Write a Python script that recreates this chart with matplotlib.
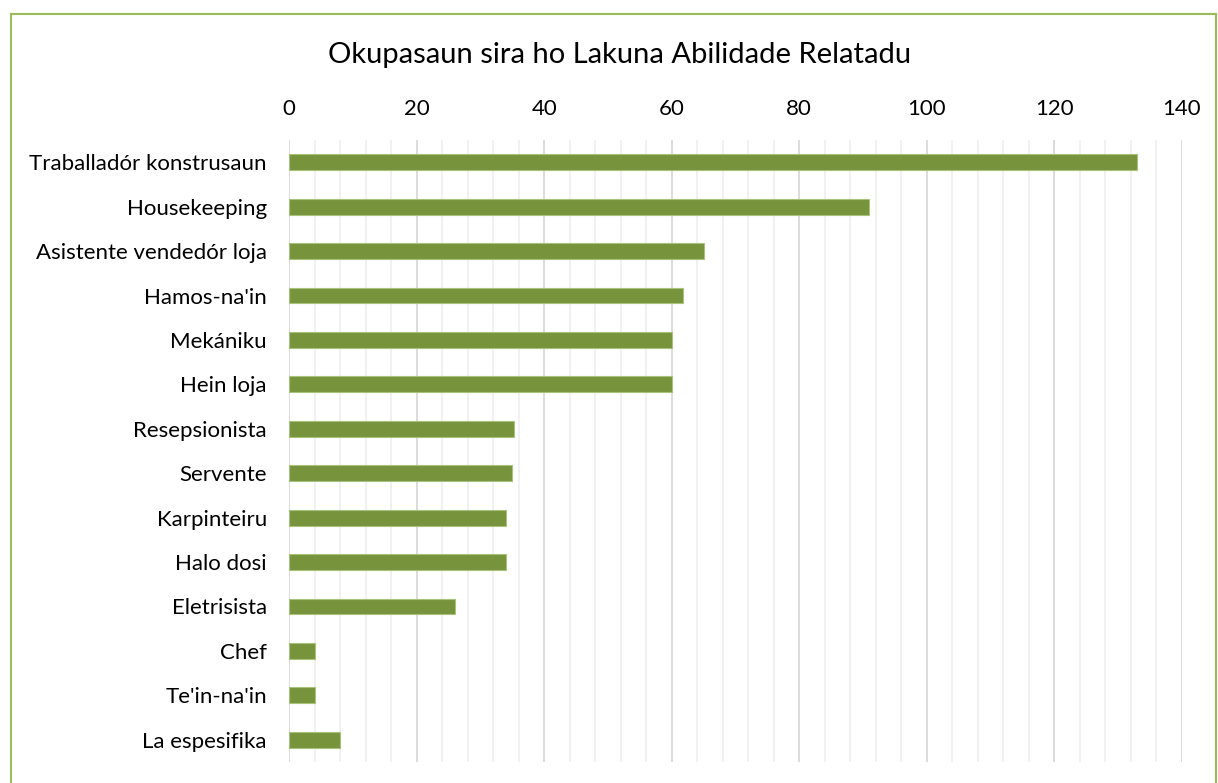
import numpy as np
import matplotlib.pyplot as plt
from matplotlib.ticker import MultipleLocator

plt.rcParams['font.family'] = ['Lato', 'DejaVu Sans']

# dadus
categories = ['Traballadór konstrusaun', 'Housekeeping', 'Asistente vendedór loja',
              "Hamos-na'in", 'Mekániku', 'Hein loja', 'Resepsionista', 'Servente',
              'Karpinteiru', 'Halo dosi', 'Eletrisista', 'Chef', "Te'in-na'in",
              'La espesifika']
values = [133, 91, 65, 61.7, 60, 60, 35.3, 35, 34, 34, 26, 4, 4, 8]
xticks = [0, 20, 40, 60, 80, 100, 120, 140]

fig = plt.figure(figsize=(12.18, 7.83), dpi=100)
ax = fig.add_axes([289/1218, 1-762/783, (1182-289)/1218, (762-140)/783])

y = np.arange(len(categories))
ax.barh(y, values, height=0.36, color='#77933C', edgecolor='#A9C27A', linewidth=0.8, zorder=3)

ax.set_xlim(0, 140)
ax.set_ylim(len(categories) - 0.5, -0.5)
ax.set_yticks(y)
ax.set_yticklabels(categories, fontsize=16)
ax.set_xticks(xticks)
ax.xaxis.set_minor_locator(MultipleLocator(4))
ax.xaxis.tick_top()
ax.tick_params(axis='x', which='both', length=0, labelsize=16, pad=15)
ax.tick_params(axis='y', length=0, pad=16)
ax.grid(axis='x', which='major', color='#D9D9D9', linewidth=1.3, zorder=0)
ax.grid(axis='x', which='minor', color='#F0F0F0', linewidth=1.3, zorder=0)
for s in ax.spines.values():
    s.set_visible(False)

fig.text(620/1218, 1-55/783, 'Okupasaun sira ho Lakuna Abilidade Relatadu',
         ha='center', va='center', fontsize=21)

# kaixa berde
fig.add_artist(plt.Line2D([11/1218, 11/1218], [0, 1-14/783], transform=fig.transFigure,
                          color='#9BBB59', linewidth=1.5))
fig.add_artist(plt.Line2D([11/1218, 1216/1218], [1-14/783, 1-14/783], transform=fig.transFigure,
                          color='#9BBB59', linewidth=1.5))
fig.add_artist(plt.Line2D([1216/1218, 1216/1218], [0, 1-14/783], transform=fig.transFigure,
                          color='#9BBB59', linewidth=1.5))

fig.savefig('out.png', dpi=100)
